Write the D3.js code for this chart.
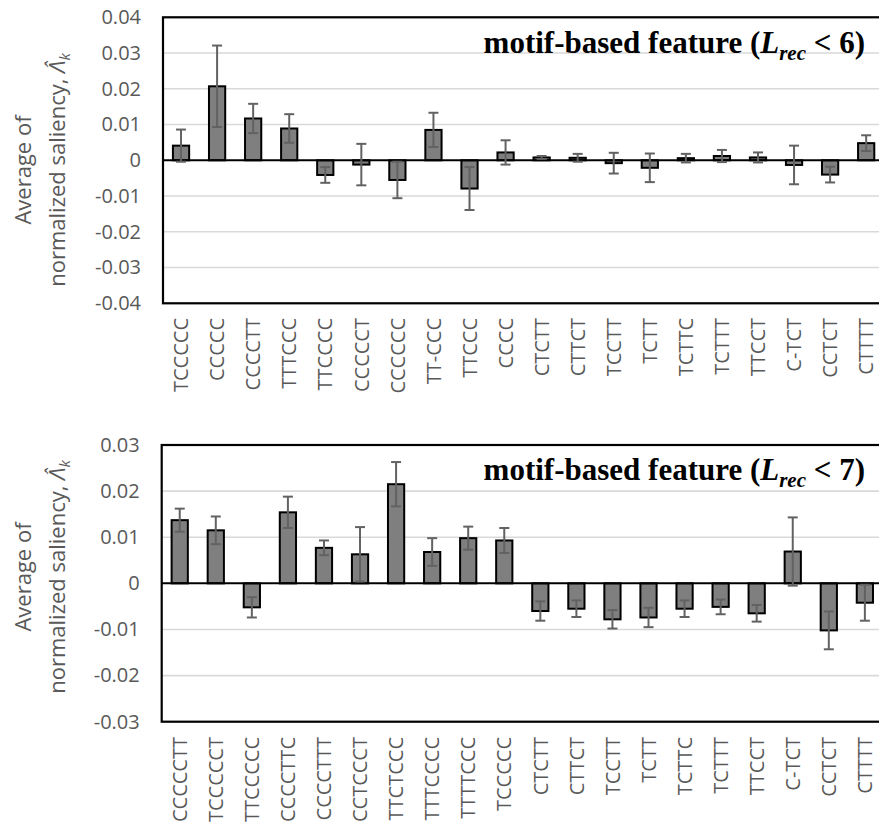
<!DOCTYPE html>
<html>
<head>
<meta charset="utf-8">
<script src="https://cdn.jsdelivr.net/npm/d3@7"></script>
<style>
  html, body { margin: 0; padding: 0; background: #fff; }
  svg { display: block; }
</style>
</head>
<body>
<svg id="chart" width="879" height="825"></svg>
<script>
// Motif categories and averaged normalized saliency (with error bar half-widths)
const categoriesL6 = ["TCCCCC", "CCCCC", "CCCCTT", "TTTCCC", "TTCCCC", "CCCCCT", "CCCCCC", "TT-CCC", "TTCCC", "CCCC",
  "CTCTT", "CTTCT", "TCCTT", "TCTT", "TCTTC", "TCTTT", "TTCCT", "C-TCT", "CCTCT", "CTTTT"];
const saliencyL6 = [0.0041, 0.0207, 0.0117, 0.0089, -0.0041, -0.0012, -0.0055, 0.0085, -0.0079, 0.0022,
  0.0008, 0.0007, -0.0008, -0.0021, 0.0006, 0.0012, 0.0008, -0.0013, -0.0040, 0.0048];
const errorL6 = [0.0045, 0.0114, 0.0041, 0.0040, 0.0022, 0.0058, 0.0051, 0.0048, 0.0060, 0.0034,
  0.0004, 0.0011, 0.0029, 0.0040, 0.0012, 0.0017, 0.0014, 0.0054, 0.0022, 0.0022];
const yTicksL6 = [0.04, 0.03, 0.02, 0.01, 0, -0.01, -0.02, -0.03, -0.04];

const categoriesL7 = ["CCCCCTT", "TCCCCCT", "TTCCCCC", "CCCCTTC", "CCCCTTT", "CCTCCCT", "TTCTCCC", "TTTCCCC", "TTTTCCC", "TCCCCC",
  "CTCTT", "CTTCT", "TCCTT", "TCTT", "TCTTC", "TCTTT", "TTCCT", "C-TCT", "CCTCT", "CTTTT"];
const saliencyL7 = [0.0137, 0.0115, -0.0052, 0.0154, 0.0077, 0.0063, 0.0215, 0.0068, 0.0098, 0.0093,
  -0.0060, -0.0055, -0.0078, -0.0074, -0.0055, -0.0051, -0.0065, 0.0069, -0.0102, -0.0042];
const errorL7 = [0.0025, 0.0030, 0.0022, 0.0034, 0.0016, 0.0059, 0.0048, 0.0030, 0.0025, 0.0027,
  0.0021, 0.0018, 0.0020, 0.0021, 0.0018, 0.0016, 0.0018, 0.0074, 0.0041, 0.0039];
const yTicksL7 = [0.03, 0.02, 0.01, 0, -0.01, -0.02, -0.03];

const TEXT_GRAY = "#595959";
const BAR_FILL = "#7f7f7f";
const ERR_COLOR = "#626262";
const GRID = "#d9d9d9";
const SANS = "'Open Sans', 'Liberation Sans', sans-serif";
const SERIF = "'Liberation Serif', 'DejaVu Serif', serif";

const panels = [
  { cats: categoriesL6, vals: saliencyL6, errs: errorL6, ticks: yTicksL6, limit: "6",
    left: 163, top: 17.3, bottom: 303.3, labelTop: 318, titleY: 53, yTitleMid: 170 },
  { cats: categoriesL7, vals: saliencyL7, errs: errorL7, ticks: yTicksL7, limit: "7",
    left: 161.7, top: 445, bottom: 721.7, labelTop: 737, titleY: 480, yTitleMid: 577 }
];

const svg = d3.select("#chart");
const step = 36.06;
const fmt = v => v === 0 ? "0" : (v < 0 ? "-" : "") + Math.abs(v).toFixed(2);

panels.forEach(p => {
  const g = svg.append("g");
  const plotRight = p.left + step * p.cats.length;
  const x = d3.scaleBand()
    .domain(p.cats)
    .range([p.left, plotRight])
    .paddingInner(0.55)
    .paddingOuter(0.275);
  const y = d3.scaleLinear()
    .domain([d3.min(p.ticks), d3.max(p.ticks)])
    .range([p.bottom, p.top]);

  // horizontal gridlines
  g.append("g").selectAll("line")
    .data(p.ticks.filter(t => t !== 0))
    .join("line")
    .attr("x1", p.left).attr("x2", plotRight)
    .attr("y1", d => y(d)).attr("y2", d => y(d))
    .attr("stroke", GRID).attr("stroke-width", 1.6);

  // y axis tick labels
  const axis = d3.axisLeft(y).tickValues(p.ticks).tickFormat(fmt).tickSize(0).tickPadding(0);
  const ag = g.append("g")
    .attr("transform", `translate(${p.left - 22},0)`)
    .call(axis);
  ag.select(".domain").remove();
  ag.selectAll("text")
    .attr("fill", TEXT_GRAY)
    .style("font-family", SANS)
    .style("font-size", "20px");

  // bars
  const bw = x.bandwidth();
  g.append("g").selectAll("rect")
    .data(p.vals)
    .join("rect")
    .attr("x", (d, i) => x(p.cats[i]))
    .attr("width", bw)
    .attr("y", d => Math.min(y(d), y(0)))
    .attr("height", d => Math.abs(y(d) - y(0)))
    .attr("fill", BAR_FILL)
    .attr("stroke", "#000")
    .attr("stroke-width", 2);

  // zero line
  g.append("line")
    .attr("x1", p.left).attr("x2", plotRight)
    .attr("y1", y(0)).attr("y2", y(0))
    .attr("stroke", "#000").attr("stroke-width", 2);

  // error bars with caps
  const eg = g.append("g").attr("stroke", ERR_COLOR).attr("stroke-width", 2);
  p.vals.forEach((v, i) => {
    const cx = x(p.cats[i]) + bw / 2;
    const hi = y(v + p.errs[i]), lo = y(v - p.errs[i]);
    eg.append("line").attr("x1", cx).attr("x2", cx).attr("y1", hi).attr("y2", lo);
    eg.append("line").attr("x1", cx - 5).attr("x2", cx + 5).attr("y1", hi).attr("y2", hi);
    eg.append("line").attr("x1", cx - 5).attr("x2", cx + 5).attr("y1", lo).attr("y2", lo);
  });

  // plot frame
  g.append("rect")
    .attr("x", p.left).attr("y", p.top)
    .attr("width", plotRight - p.left).attr("height", p.bottom - p.top)
    .attr("fill", "none").attr("stroke", "#000").attr("stroke-width", 2.2);

  // category labels, rotated
  g.append("g").selectAll("text")
    .data(p.cats)
    .join("text")
    .attr("transform", d => `translate(${x(d) + bw / 2},${p.labelTop}) rotate(-90)`)
    .attr("text-anchor", "end")
    .attr("dy", "0.36em")
    .attr("fill", TEXT_GRAY)
    .style("font-family", SANS)
    .style("font-size", "20px")
    .text(d => d);

  // panel title
  const t = g.append("text")
    .attr("x", 865).attr("y", p.titleY)
    .attr("text-anchor", "end")
    .style("font-family", SERIF)
    .style("font-size", "31px")
    .style("font-weight", "bold")
    .attr("fill", "#000");
  t.append("tspan").text("motif-based feature (");
  t.append("tspan").style("font-style", "italic").text("L");
  t.append("tspan").style("font-style", "italic").style("font-size", "21px").attr("dy", 7).text("rec");
  t.append("tspan").attr("dy", -7).text(" < " + p.limit + ")");

  // y axis title, two centred lines
  const titleText = (yOff) => g.append("text")
    .attr("transform", `translate(0,${p.yTitleMid}) rotate(-90)`)
    .attr("x", 0).attr("y", yOff)
    .attr("text-anchor", "middle")
    .attr("fill", TEXT_GRAY)
    .style("font-family", SANS)
    .style("font-size", "22px");
  titleText(31).text("Average of");
  const line2 = titleText(65);
  line2.append("tspan").text("normalized saliency, ");
  line2.append("tspan").style("font-style", "italic").text("\u039B\u0302");
  line2.append("tspan").style("font-style", "italic").style("font-size", "15px").attr("dy", 5).text("k");
});
</script>
</body>
</html>
